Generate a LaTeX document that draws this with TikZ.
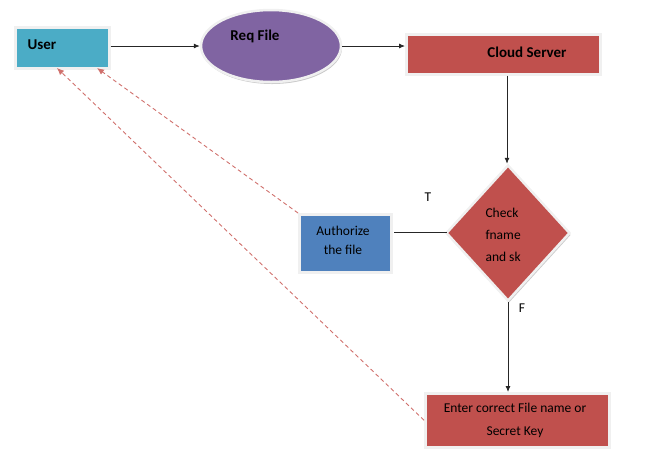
\documentclass[tikz,border=0pt]{standalone}
\usepackage{fontspec}
\setmainfont{Carlito}
\usetikzlibrary{shapes.geometric,arrows.meta,shadows}
\definecolor{cteal}{HTML}{4BACC6}
\definecolor{cpurple}{HTML}{8064A2}
\definecolor{cred}{HTML}{C0504D}
\definecolor{cblue}{HTML}{4F81BD}
\definecolor{cdash}{HTML}{D0706C}
\tikzset{
  box/.style={draw=black!6, line width=2.5pt, inner sep=0pt,
    drop shadow={shadow xshift=1pt, shadow yshift=-2pt, fill=black!35, opacity=0.6}},
  conn/.style={draw=black!85, line width=0.8pt, -{Latex[length=6pt,width=5pt]}},
  dconn/.style={draw=cdash, line width=0.9pt, dash pattern=on 4pt off 3pt, -{Latex[length=7pt,width=6pt]}},
  lbl/.style={font=\fontsize{13.5}{15}\selectfont}
}
\begin{document}
\begin{tikzpicture}[x=1pt,y=-1pt]
\useasboundingbox (0,0) rectangle (652,451);
\node[box, fill=cteal, minimum width=94pt, minimum height=41pt, anchor=north west] (user) at (14,26) {};
\node[font=\fontsize{15}{17}\selectfont\bfseries, anchor=west] (usert) at (24,45) {User};
\node[box, ellipse, fill=cpurple, minimum width=140pt, minimum height=72pt] (req) at (271,46) {};
\node[font=\fontsize{15}{17}\selectfont\bfseries] (reqt) at (255,36) {Req File};
\node[box, fill=cred, minimum width=194pt, minimum height=40pt, anchor=north west] (cloud) at (405,33) {};
\node[font=\fontsize{15}{17}\selectfont\bfseries] (cloudt) at (527,52) {Cloud Server};
\node[box, diamond, fill=cred, minimum width=124pt, minimum height=136pt] (chk) at (508,233) {};
\node[lbl, align=left, anchor=west] (chkt) at (482,235) {Check\\[7pt]fname\\[7pt]and sk};
\node[box, fill=cblue, minimum width=92pt, minimum height=58pt, anchor=north west] (auth) at (298,213) {};
\node[lbl, align=center] (autht) at (343,240) {Authorize\\[4pt]the file};
\node[box, fill=cred, minimum width=184pt, minimum height=54pt, anchor=north west] (enter) at (424,392) {};
\node[lbl, align=center] (entert) at (515,420) {Enter correct File name or\\[8pt]Secret Key};
\node[lbl] (T) at (428,197) {T};
\node[lbl] (F) at (522,308) {F};
\coordinate (ua) at (57,68);
\coordinate (ub) at (97,68);
\coordinate (ar) at (394,232);
\coordinate (cl) at (447,232);
\coordinate (cb) at (508,302);
\draw[conn] (user.east |- 0,46) -- (req.west |- 0,46);
\draw[conn] (req.east |- 0,46) -- (cloud.west |- 0,46);
\draw[conn] (cloud.south -| 507,0) -- (chk.north -| 507,0);
\draw[draw=black!85, line width=0.8pt] (ar) -- (cl);
\draw[conn] (cb) -- (enter.north -| 508,0);
\draw[dconn] (auth.north west) -- (ub);
\draw[dconn] (enter.west) -- (ua);
\end{tikzpicture}
\end{document}
